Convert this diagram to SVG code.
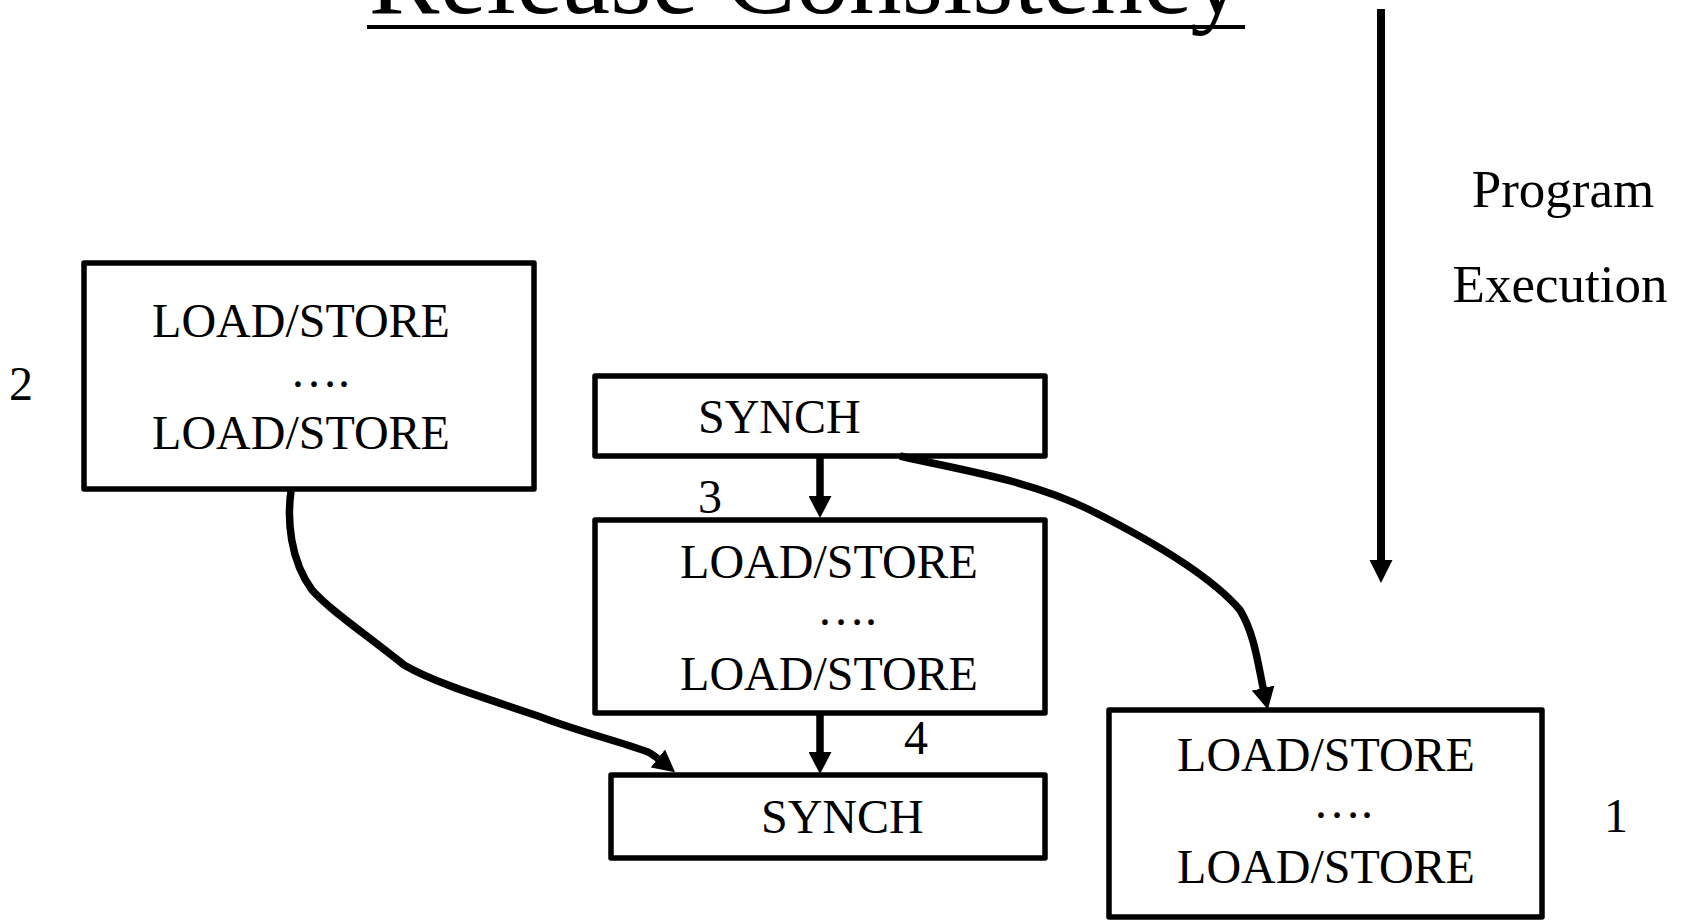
<svg xmlns="http://www.w3.org/2000/svg" width="1688" height="920" viewBox="0 0 1688 920">
  <style>
    .box { fill: #ffffff; stroke: #000000; stroke-width: 5.5; stroke-linejoin: round; }
    .lbl { font-family: "Liberation Serif", "Times New Roman", serif; font-size: 48px; fill: #000000; }
    .mid { text-anchor: middle; }
    .title { font-family: "Liberation Serif", "Times New Roman", serif; font-size: 106px; fill: #000000; text-anchor: middle; }
    .edge { fill: none; stroke: #000000; stroke-width: 7.5; stroke-linecap: butt; stroke-linejoin: round; }
  </style>
  <defs>
    <marker id="head" viewBox="0 0 22 23" refX="4" refY="11.5" markerWidth="22" markerHeight="23" markerUnits="userSpaceOnUse" orient="auto">
      <path d="M0,0 L22,11.5 L0,23 z" fill="#000000"/>
    </marker>
  </defs>

  <rect width="1688" height="920" fill="#ffffff"/>

  <!-- heading -->
  <g id="title">
    <text class="title" x="806" y="13">Release Consistency</text>
    <line x1="367" y1="27" x2="1245" y2="27" stroke="#000000" stroke-width="4"/>
  </g>

  <!-- program order axis -->
  <g id="program-execution">
    <line x1="1381" y1="9" x2="1381" y2="562" stroke="#000000" stroke-width="8"/>
    <path d="M1369.5,560 L1392.5,560 L1381,583 z" fill="#000000"/>
    <text class="lbl mid" x="1563" y="207" style="font-size:53px">Program</text>
    <text class="lbl mid" x="1560" y="302" style="font-size:53px">Execution</text>
  </g>

  <!-- processor 2 block -->
  <g id="block-2">
    <rect class="box" x="84" y="263" width="450" height="226"/>
    <text class="lbl mid" x="301" y="337">LOAD/STORE</text>
    <text class="lbl mid" x="320" y="387">….</text>
    <text class="lbl mid" x="301" y="449">LOAD/STORE</text>
    <text class="lbl" x="9" y="400">2</text>
  </g>

  <!-- acquire -->
  <g id="synch-acquire">
    <rect class="box" x="595" y="376" width="450" height="80"/>
    <text class="lbl" x="698" y="433">SYNCH</text>
  </g>

  <!-- critical section -->
  <g id="block-critical">
    <rect class="box" x="595" y="520" width="450" height="193"/>
    <text class="lbl mid" x="829" y="578">LOAD/STORE</text>
    <text class="lbl mid" x="847" y="625">….</text>
    <text class="lbl mid" x="829" y="690">LOAD/STORE</text>
    <text class="lbl" x="698" y="513">3</text>
    <text class="lbl" x="904" y="754">4</text>
  </g>

  <!-- release -->
  <g id="synch-release">
    <rect class="box" x="611" y="775" width="434" height="83"/>
    <text class="lbl" x="761" y="833">SYNCH</text>
  </g>

  <!-- processor 1 block -->
  <g id="block-1">
    <rect class="box" x="1109" y="710" width="433" height="207"/>
    <text class="lbl mid" x="1326" y="771">LOAD/STORE</text>
    <text class="lbl mid" x="1343" y="818">….</text>
    <text class="lbl mid" x="1326" y="883">LOAD/STORE</text>
    <text class="lbl" x="1604" y="832">1</text>
  </g>

  <!-- ordering constraints -->
  <g id="connectors">
    <path class="edge" d="M820,458 L820,500" marker-end="url(#head)"/>
    <path class="edge" d="M820,715 L820,756" marker-end="url(#head)"/>
    <path class="edge" d="M291,491 C287,520 290,560 312,590 C330,610 360,630 404,665 C430,680 460,690 538,716 C580,732 615,740 648,752 C652,754 656,757 661,761" marker-end="url(#head)"/>
    <path class="edge" d="M900,456 C960,470 1030,480 1090,510 C1150,540 1210,575 1240,610 C1255,635 1258,665 1264,692" marker-end="url(#head)"/>
  </g>
</svg>
